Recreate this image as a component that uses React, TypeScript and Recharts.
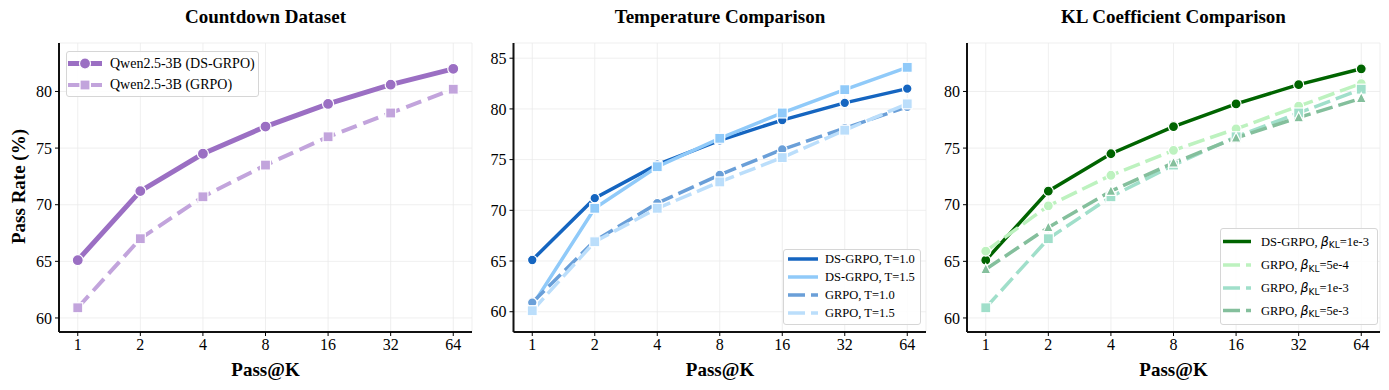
import React from 'react'
import { LineChart, Line, XAxis, YAxis, CartesianGrid } from 'recharts'

const passK = ['1', '2', '4', '8', '16', '32', '64']

// Countdown dataset
const dsGrpo = [65.1, 71.2, 74.5, 76.9, 78.9, 80.6, 82.0]
const grpo = [60.9, 67.0, 70.7, 73.5, 76.0, 78.1, 80.2]

// temperature comparison
const dsT10 = [65.1, 71.2, 74.5, 76.9, 78.9, 80.6, 82.0]
const dsT15 = [60.6, 70.2, 74.3, 77.1, 79.6, 81.9, 84.1]
const grpoT10 = [60.9, 67.0, 70.7, 73.5, 76.0, 78.1, 80.2]
const grpoT15 = [60.1, 66.9, 70.2, 72.8, 75.2, 77.9, 80.5]

// KL coefficient comparison
const dsKl1e3 = [65.1, 71.2, 74.5, 76.9, 78.9, 80.6, 82.0]
const grpoKl5e4 = [65.9, 69.9, 72.6, 74.8, 76.7, 78.7, 80.7]
const grpoKl1e3 = [60.9, 67.0, 70.7, 73.5, 76.0, 78.1, 80.2]
const grpoKl5e3 = [64.3, 68.0, 71.2, 73.7, 75.9, 77.7, 79.4]

const ticksA = [60, 65, 70, 75, 80]
const ticksB = [60, 65, 70, 75, 80, 85]

const SERIF = '"Liberation Serif", "Times New Roman", serif'
const MATH = '"DejaVu Sans", sans-serif'

type Shape = 'circle' | 'square' | 'triangle'

type Series = {
  name: string
  values: number[]
  color: string
  width: number
  dash?: string
  shape: Shape
  size: number
}

const marker = (shape: Shape, size: number, fill: string) => (p: any) => {
  const { cx, cy, index } = p
  if (cx == null || cy == null) return <g key={index} />
  if (shape === 'circle')
    return <circle key={index} cx={cx} cy={cy} r={size / 2} fill={fill} stroke="#fff" strokeWidth={1.2} />
  if (shape === 'square')
    return (
      <rect key={index} x={cx - size / 2} y={cy - size / 2} width={size} height={size}
        fill={fill} stroke="#fff" strokeWidth={1.2} />
    )
  const h = size * 0.95
  const pts = `${cx},${cy - h * 0.6} ${cx - size / 2},${cy + h * 0.45} ${cx + size / 2},${cy + h * 0.45}`
  return <polygon key={index} points={pts} fill={fill} stroke="#fff" strokeWidth={1.2} />
}

const panel1: Series[] = [
  { name: 'ds', values: dsGrpo, color: '#9b6fc3', width: 5, shape: 'circle', size: 11 },
  { name: 'grpo', values: grpo, color: '#c2a4dc', width: 4, dash: '16 7', shape: 'square', size: 10 },
]

const panel2: Series[] = [
  { name: 'ds10', values: dsT10, color: '#1565c0', width: 3.5, shape: 'circle', size: 9.5 },
  { name: 'ds15', values: dsT15, color: '#90caf9', width: 3.5, shape: 'square', size: 10 },
  { name: 'g10', values: grpoT10, color: '#6a9fd8', width: 3.5, dash: '17 6', shape: 'circle', size: 9.5 },
  { name: 'g15', values: grpoT15, color: '#bbdefb', width: 3.5, dash: '17 6', shape: 'square', size: 10 },
]

const panel3: Series[] = [
  { name: 'ds', values: dsKl1e3, color: '#006400', width: 3.5, shape: 'circle', size: 10 },
  { name: 'k5e4', values: grpoKl5e4, color: '#bdf2bf', width: 3.5, dash: '17 6', shape: 'circle', size: 10 },
  { name: 'k1e3', values: grpoKl1e3, color: '#a0dfca', width: 3.5, dash: '17 6', shape: 'square', size: 10 },
  { name: 'k5e3', values: grpoKl5e3, color: '#84bf9c', width: 3.5, dash: '17 6', shape: 'triangle', size: 10 },
]

function Panel({ left, width, yWidth, domain, ticks, series }: {
  left: number; width: number; yWidth: number; domain: [number, number]; ticks: number[]; series: Series[]
}) {
  const data = passK.map((k, i) => {
    const row: any = { k }
    series.forEach((s) => { row[s.name] = s.values[i] })
    return row
  })
  const tick = { fill: '#000', fontSize: 16, fontFamily: SERIF }
  return (
    <div style={{ position: 'absolute', left, top: 0 }}>
      <LineChart width={width} height={390} data={data} margin={{ top: 43, right: 8, bottom: 28, left: 0 }}>
        <CartesianGrid stroke="#ebebeb" strokeWidth={0.8} />
        <XAxis dataKey="k" type="category" interval={0} padding={{ left: 18.75, right: 18.75 }}
          height={30} tick={tick} tickSize={4} tickMargin={3}
          tickLine={{ stroke: '#000', strokeWidth: 1 }} axisLine={{ stroke: '#111', strokeWidth: 2 }} />
        <YAxis type="number" domain={domain} ticks={ticks} allowDataOverflow width={yWidth}
          tick={tick} tickSize={4} tickMargin={3}
          tickLine={{ stroke: '#000', strokeWidth: 1 }} axisLine={{ stroke: '#111', strokeWidth: 2 }} />
        {series.map((s) => (
          <Line key={s.name} dataKey={s.name} type="linear" stroke={s.color} strokeWidth={s.width}
            strokeDasharray={s.dash} dot={marker(s.shape, s.size, s.color)} activeDot={false}
            isAnimationActive={false} />
        ))}
      </LineChart>
    </div>
  )
}

const Beta = ({ v }: { v: string }) => (
  <span>
    GRPO, <span style={{ fontFamily: MATH, fontStyle: 'italic' }}>β</span>
    <span style={{ fontFamily: MATH, fontSize: '0.72em', position: 'relative', top: '0.3em' }}>KL</span>={v}
  </span>
)

type LegendItem = { label: React.ReactNode; color: string; width: number; dash?: string; shape?: Shape; size?: number; y: number }

function Legend({ left, top, width, height, items, fontSize, handle, textX }: {
  left: number; top: number; width: number; height: number; items: LegendItem[]; fontSize: number
  handle: [number, number]; textX: number
}) {
  return (
    <div style={{
      position: 'absolute', left, top, width, height, border: '1px solid #d6d6d6', borderRadius: 3,
      background: 'rgba(255,255,255,0.85)', boxSizing: 'border-box', fontFamily: SERIF, fontSize,
    }}>
      <svg width={width} height={height} style={{ position: 'absolute', left: -1, top: -1 }}>
        {items.map((it, i) => {
          const mid = (handle[0] + handle[1]) / 2
          return (
            <g key={i}>
              <line x1={handle[0]} x2={handle[1]} y1={it.y} y2={it.y} stroke={it.color}
                strokeWidth={it.width} strokeDasharray={it.dash} />
              {it.shape && marker(it.shape, it.size || 10, it.color)({ cx: mid, cy: it.y, index: 0 })}
            </g>
          )
        })}
      </svg>
      {items.map((it, i) => (
        <div key={i} style={{ position: 'absolute', left: textX - 1, top: it.y - 1, transform: 'translateY(-50%)', whiteSpace: 'nowrap', lineHeight: 1 }}>
          {it.label}
        </div>
      ))}
    </div>
  )
}

const titleStyle = (cx: number, y: number): React.CSSProperties => ({
  position: 'absolute', left: cx - 200, width: 400, top: y, textAlign: 'center',
  fontFamily: SERIF, fontWeight: 'bold', fontSize: 19, lineHeight: 1,
})

export default function App() {
  return (
    <div style={{ position: 'absolute', left: 0, top: 0, width: 1389, height: 390, background: '#fff', overflow: 'hidden' }}>
      <Panel left={0} width={480} yWidth={59} domain={[58.76, 84.28]} ticks={ticksA} series={panel1} />
      <Panel left={473} width={461} yWidth={40.5} domain={[58.0, 86.5]} ticks={ticksB} series={panel2} />
      <Panel left={927} width={461} yWidth={40} domain={[58.76, 84.28]} ticks={ticksA} series={panel3} />

      <div style={titleStyle(265.5, 7)}>Countdown Dataset</div>
      <div style={titleStyle(720, 7)}>Temperature Comparison</div>
      <div style={titleStyle(1173.5, 7)}>KL Coefficient Comparison</div>

      <div style={titleStyle(265.5, 360)}>Pass@K</div>
      <div style={titleStyle(720, 360)}>Pass@K</div>
      <div style={titleStyle(1173.5, 360)}>Pass@K</div>

      <div style={{ ...titleStyle(18, 177), transform: 'rotate(-90deg)' }}>Pass Rate (%)</div>

      <Legend left={66} top={51} width={193} height={46} fontSize={14} handle={[2, 36]} textX={44}
        items={[
          { label: 'Qwen2.5-3B (DS-GRPO)', color: panel1[0].color, width: 5, shape: 'circle', size: 11, y: 12.5 },
          { label: 'Qwen2.5-3B (GRPO)', color: panel1[1].color, width: 4, dash: '16 7', shape: 'square', size: 10, y: 34 },
        ]} />

      <Legend left={783} top={249} width={138} height={76} fontSize={12.5} handle={[5, 35]} textX={42}
        items={[
          { label: 'DS-GRPO, T=1.0', color: panel2[0].color, width: 3.5, y: 10 },
          { label: 'DS-GRPO, T=1.5', color: panel2[1].color, width: 3.5, y: 28 },
          { label: 'GRPO, T=1.0', color: panel2[2].color, width: 3.5, dash: '17 6', y: 46 },
          { label: 'GRPO, T=1.5', color: panel2[3].color, width: 3.5, dash: '17 6', y: 64 },
        ]} />

      <Legend left={1220} top={228} width={158} height={97} fontSize={12.5} handle={[3, 31]} textX={41}
        items={[
          { label: <span>DS-GRPO, <span style={{ fontFamily: MATH, fontStyle: 'italic' }}>β</span><span style={{ fontFamily: MATH, fontSize: '0.72em', position: 'relative', top: '0.3em' }}>KL</span>=1e-3</span>, color: panel3[0].color, width: 3.5, y: 13.5 },
          { label: <Beta v="5e-4" />, color: panel3[1].color, width: 3.5, dash: '17 6', y: 37 },
          { label: <Beta v="1e-3" />, color: panel3[2].color, width: 3.5, dash: '17 6', y: 60 },
          { label: <Beta v="5e-3" />, color: panel3[3].color, width: 3.5, dash: '17 6', y: 82.5 },
        ]} />
    </div>
  )
}
